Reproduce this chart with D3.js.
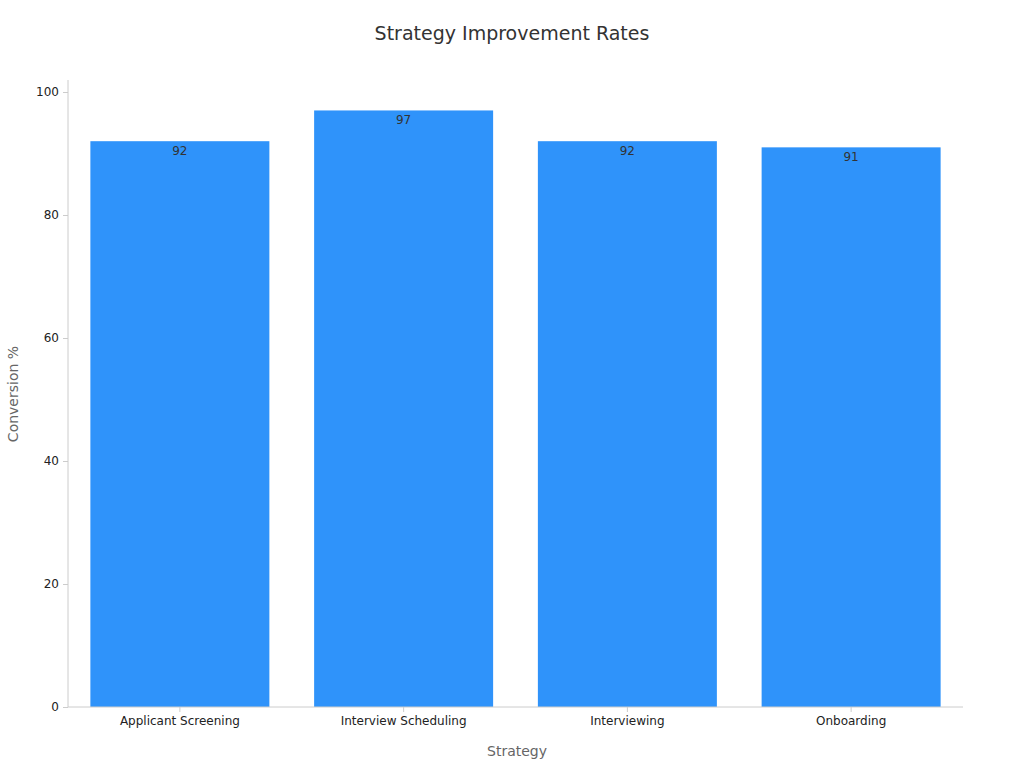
<!DOCTYPE html>
<html><head><meta charset="utf-8">
<script src="https://cdn.jsdelivr.net/npm/d3@7"></script>
<style>body{margin:0;background:#fff;font-family:"DejaVu Sans",sans-serif}</style>
</head><body><svg id="c" width="1024" height="768"></svg>
<script>
const categories=["Applicant Screening","Interview Scheduling","Interviewing","Onboarding"];
const values=[92,97,92,91];
const yTicks=[0,20,40,60,80,100];
const svg=d3.select("#c");
const L=68,R=963,T=80,B=707;
const x=d3.scaleBand().domain(categories).range([L,R]).paddingInner(0.2).paddingOuter(0.1);
const y=d3.scaleLinear().domain([0,100]).range([B,92]);
svg.append("text").attr("x",512).attr("y",40).attr("text-anchor","middle").attr("font-size",19).attr("fill","#333").text("Strategy Improvement Rates");
svg.selectAll("rect.b").data(values).join("rect").attr("x",(d,i)=>x(categories[i])).attr("y",d=>y(d)).attr("width",x.bandwidth()).attr("height",d=>B-y(d)).attr("fill","#2f93fa");
svg.selectAll("text.v").data(values).join("text").attr("x",(d,i)=>x(categories[i])+x.bandwidth()/2).attr("y",d=>y(d)+14).attr("text-anchor","middle").attr("font-size",12).attr("fill","#333").text(d=>d);
const gy=svg.append("g").attr("transform",`translate(${L},0)`).call(d3.axisLeft(y).tickValues(yTicks).tickSize(5).tickPadding(4));
gy.select(".domain").attr("d",`M0,${T}V${B}`);
const gx=svg.append("g").attr("transform",`translate(0,${B})`).call(d3.axisBottom(x).tickSize(5).tickPadding(4));
gx.select(".domain").attr("d",`M${L},0H${R}`);
[gx,gy].forEach(g=>{g.selectAll("path,line").attr("stroke","#ccc");g.selectAll("text").attr("fill","#222").attr("font-size",12).attr("font-family","DejaVu Sans");});
svg.append("text").attr("x",517).attr("y",756).attr("text-anchor","middle").attr("font-size",14).attr("fill","#666").text("Strategy");
svg.append("text").attr("transform","translate(18,394) rotate(-90)").attr("text-anchor","middle").attr("font-size",14).attr("fill","#666").text("Conversion %");
</script></body></html>
